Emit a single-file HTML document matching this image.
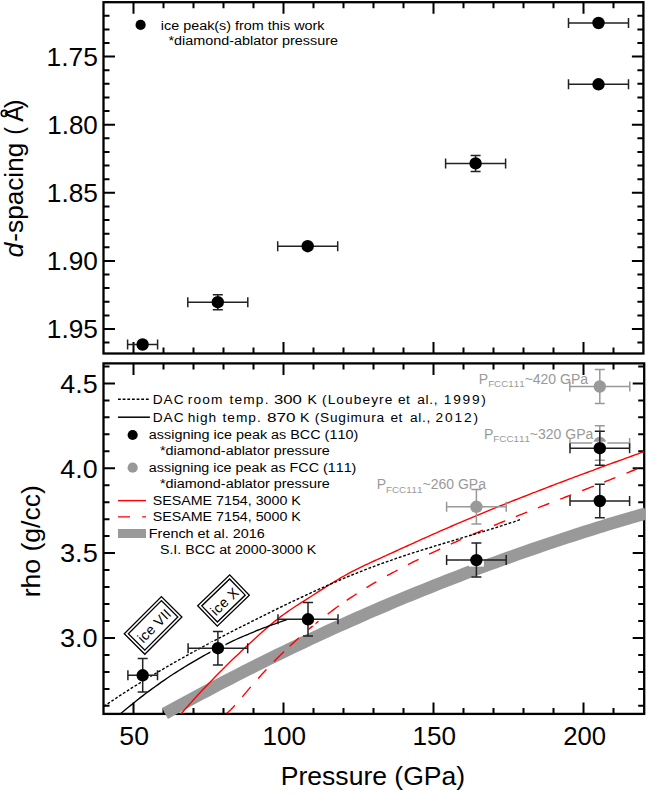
<!DOCTYPE html><html><head><meta charset="utf-8"><style>html,body{margin:0;padding:0;background:#fff;}svg{display:block;}text{font-family:"Liberation Sans", sans-serif;font-kerning:none;}</style></head><body>
<svg width="646" height="794" viewBox="0 0 646 794">
<rect width="646" height="794" fill="#fff"/>
<defs><clipPath id="c2"><rect x="103.5" y="363.4" width="540.7" height="350.5"/></clipPath></defs>
<rect x="103.5" y="2.2" width="539.9" height="351.3" fill="none" stroke="#000" stroke-width="2.3"/>
<rect x="103.5" y="363.4" width="540.7" height="350.5" fill="none" stroke="#000" stroke-width="2.3"/>
<path d="M133.5,2.2v11.5M133.5,353.5v-11.5M133.5,363.4v11.5M133.5,713.9v-11.5M163.5,2.2v6M163.5,353.5v-6M163.5,363.4v6M163.5,713.9v-6M193.5,2.2v6M193.5,353.5v-6M193.5,363.4v6M193.5,713.9v-6M223.5,2.2v6M223.5,353.5v-6M223.5,363.4v6M223.5,713.9v-6M253.5,2.2v6M253.5,353.5v-6M253.5,363.4v6M253.5,713.9v-6M283.5,2.2v11.5M283.5,353.5v-11.5M283.5,363.4v11.5M283.5,713.9v-11.5M313.5,2.2v6M313.5,353.5v-6M313.5,363.4v6M313.5,713.9v-6M343.5,2.2v6M343.5,353.5v-6M343.5,363.4v6M343.5,713.9v-6M373.5,2.2v6M373.5,353.5v-6M373.5,363.4v6M373.5,713.9v-6M403.5,2.2v6M403.5,353.5v-6M403.5,363.4v6M403.5,713.9v-6M433.5,2.2v11.5M433.5,353.5v-11.5M433.5,363.4v11.5M433.5,713.9v-11.5M463.5,2.2v6M463.5,353.5v-6M463.5,363.4v6M463.5,713.9v-6M493.5,2.2v6M493.5,353.5v-6M493.5,363.4v6M493.5,713.9v-6M523.5,2.2v6M523.5,353.5v-6M523.5,363.4v6M523.5,713.9v-6M553.5,2.2v6M553.5,353.5v-6M553.5,363.4v6M553.5,713.9v-6M583.5,2.2v11.5M583.5,353.5v-11.5M583.5,363.4v11.5M583.5,713.9v-11.5M613.5,2.2v6M613.5,353.5v-6M613.5,363.4v6M613.5,713.9v-6M103.5,15.7h6M643.4,15.7h-6M103.5,29.4h6M643.4,29.4h-6M103.5,43.0h6M643.4,43.0h-6M103.5,56.6h11.5M643.4,56.6h-11.5M103.5,70.2h6M643.4,70.2h-6M103.5,83.8h6M643.4,83.8h-6M103.5,97.5h6M643.4,97.5h-6M103.5,111.1h6M643.4,111.1h-6M103.5,124.7h11.5M643.4,124.7h-11.5M103.5,138.3h6M643.4,138.3h-6M103.5,151.9h6M643.4,151.9h-6M103.5,165.6h6M643.4,165.6h-6M103.5,179.2h6M643.4,179.2h-6M103.5,192.8h11.5M643.4,192.8h-11.5M103.5,206.4h6M643.4,206.4h-6M103.5,220.0h6M643.4,220.0h-6M103.5,233.7h6M643.4,233.7h-6M103.5,247.3h6M643.4,247.3h-6M103.5,260.9h11.5M643.4,260.9h-11.5M103.5,274.5h6M643.4,274.5h-6M103.5,288.1h6M643.4,288.1h-6M103.5,301.8h6M643.4,301.8h-6M103.5,315.4h6M643.4,315.4h-6M103.5,329.0h11.5M643.4,329.0h-11.5M103.5,342.6h6M643.4,342.6h-6M103.5,705.8h6M644.2,705.8h-6M103.5,688.9h6M644.2,688.9h-6M103.5,671.9h6M644.2,671.9h-6M103.5,654.9h6M644.2,654.9h-6M103.5,637.9h11.5M644.2,637.9h-11.5M103.5,621.0h6M644.2,621.0h-6M103.5,604.0h6M644.2,604.0h-6M103.5,587.0h6M644.2,587.0h-6M103.5,570.1h6M644.2,570.1h-6M103.5,553.1h11.5M644.2,553.1h-11.5M103.5,536.1h6M644.2,536.1h-6M103.5,519.2h6M644.2,519.2h-6M103.5,502.2h6M644.2,502.2h-6M103.5,485.2h6M644.2,485.2h-6M103.5,468.2h11.5M644.2,468.2h-11.5M103.5,451.3h6M644.2,451.3h-6M103.5,434.3h6M644.2,434.3h-6M103.5,417.3h6M644.2,417.3h-6M103.5,400.4h6M644.2,400.4h-6M103.5,383.4h11.5M644.2,383.4h-11.5M103.5,366.4h6M644.2,366.4h-6" stroke="#000" stroke-width="2" fill="none"/>
<defs><clipPath id="cb"><rect x="100" y="363.4" width="545.6" height="400"/></clipPath></defs>
<polyline clip-path="url(#cb)" points="165.0,713.5 171.0,710.2 177.0,706.9 183.0,703.6 189.0,700.3 195.0,697.1 201.0,693.9 207.0,690.7 213.0,687.5 219.0,684.4 225.0,681.3 231.0,678.2 237.0,675.1 243.0,672.0 249.0,669.0 255.0,666.0 261.0,663.0 267.0,660.0 273.0,657.0 279.0,654.1 285.0,651.2 291.0,648.3 297.0,645.5 303.0,642.6 309.0,639.8 315.0,637.0 321.0,634.2 327.0,631.4 333.0,628.7 339.0,626.0 345.0,623.3 351.0,620.6 357.0,618.0 363.0,615.3 369.0,612.7 375.0,610.1 381.0,607.5 387.0,605.0 393.0,602.4 399.0,599.9 405.0,597.4 411.0,595.0 417.0,592.5 423.0,590.1 429.0,587.7 435.0,585.3 441.0,582.9 447.0,580.5 453.0,578.2 459.0,575.9 465.0,573.6 471.0,571.3 477.0,569.1 483.0,566.8 489.0,564.6 495.0,562.4 501.0,560.2 507.0,558.1 513.0,555.9 519.0,553.8 525.0,551.7 531.0,549.6 537.0,547.6 543.0,545.5 549.0,543.5 555.0,541.5 561.0,539.5 567.0,537.5 573.0,535.6 579.0,533.6 585.0,531.7 591.0,529.8 597.0,527.9 603.0,526.1 609.0,524.2 615.0,522.4 621.0,520.6 627.0,518.8 633.0,517.1 639.0,515.3 645.0,513.6 646.0,513.3" fill="none" stroke="#999" stroke-width="12.3" stroke-linecap="butt"/>
<g clip-path="url(#c2)">
<polyline points="176.0,719.7 179.0,716.2 182.0,712.7 185.0,709.3 188.0,706.0 191.0,702.6 194.0,699.3 197.0,696.1 200.0,692.8 203.0,689.6 206.0,686.4 209.0,683.3 212.0,680.2 215.0,677.1 218.0,674.0 221.0,671.0 224.0,668.0 227.0,665.0 230.0,662.1 233.0,659.1 236.0,656.2 239.0,653.4 242.0,650.5 245.0,647.7 248.0,644.9 251.0,642.2 254.0,639.4 257.0,636.7 260.0,634.0 263.0,631.3 266.0,628.7 269.0,626.1 272.0,623.6 275.0,621.1 278.0,618.7 281.0,616.4 284.0,614.2 287.0,612.1 290.0,610.0 293.0,608.0 296.0,606.0 299.0,604.1 302.0,602.2 305.0,600.3 308.0,598.4 311.0,596.5 314.0,594.5 317.0,592.6 320.0,590.7 323.0,588.8 326.0,586.9 329.0,585.0 332.0,583.2 335.0,581.3 338.0,579.5 341.0,577.7 344.0,576.0 347.0,574.3 350.0,572.7 353.0,571.1 356.0,569.6 359.0,568.1 362.0,566.6 365.0,565.2 368.0,563.8 371.0,562.4 374.0,561.0 377.0,559.7 380.0,558.3 383.0,556.9 386.0,555.6 389.0,554.2 392.0,552.8 395.0,551.5 398.0,550.1 401.0,548.7 404.0,547.4 407.0,546.0 410.0,544.7 413.0,543.3 416.0,541.9 419.0,540.6 422.0,539.2 425.0,537.9 428.0,536.6 431.0,535.2 434.0,533.9 437.0,532.6 440.0,531.2 443.0,529.9 446.0,528.6 449.0,527.3 452.0,526.0 455.0,524.7 458.0,523.4 461.0,522.2 464.0,520.9 467.0,519.6 470.0,518.4 473.0,517.1 476.0,515.8 479.0,514.6 482.0,513.4 485.0,512.1 488.0,510.9 491.0,509.7 494.0,508.4 497.0,507.2 500.0,506.0 503.0,504.8 506.0,503.6 509.0,502.4 512.0,501.2 515.0,500.0 518.0,498.8 521.0,497.6 524.0,496.5 527.0,495.3 530.0,494.1 533.0,492.9 536.0,491.8 539.0,490.6 542.0,489.5 545.0,488.3 548.0,487.2 551.0,486.0 554.0,484.9 557.0,483.7 560.0,482.6 563.0,481.5 566.0,480.3 569.0,479.2 572.0,478.1 575.0,476.9 578.0,475.8 581.0,474.7 584.0,473.6 587.0,472.5 590.0,471.4 593.0,470.3 596.0,469.1 599.0,468.0 602.0,466.9 605.0,465.8 608.0,464.7 611.0,463.6 614.0,462.5 617.0,461.5 620.0,460.4 623.0,459.3 626.0,458.2 629.0,457.1 632.0,456.0 635.0,454.9 638.0,453.8 641.0,452.7 644.0,451.7 646.0,450.9" fill="none" stroke="#f00" stroke-width="1.4"/>
<path d="M226.5,713.6 L228.6,711.7 L230.7,709.7 L232.8,707.6 L234.9,705.3M242.3,696.9 L244.4,694.4 L246.5,691.9 L248.6,689.4 L250.7,686.9M258.1,678.5 L260.2,676.2 L262.2,673.9 L264.3,671.7 L266.4,669.5M273.9,661.7 L276.4,659.1 L279.0,656.6 L281.6,654.1 L284.1,651.6M289.7,646.3 L292.0,644.1 L294.4,642.0 L296.7,639.8 L299.0,637.7M308.5,629.5 L311.0,627.4 L313.5,625.3 L316.0,623.2 L318.5,621.2M327.7,614.1 L330.5,612.0 L333.3,609.9 L336.1,607.8 L338.9,605.8M346.7,600.4 L349.2,598.7 L351.6,597.1 L354.1,595.5 L356.6,593.9M366.5,587.7 L369.0,586.2 L371.4,584.7 L373.9,583.2 L376.4,581.8M387.0,575.7 L389.6,574.3 L392.2,572.9 L394.9,571.5 L397.5,570.1M408.0,564.6 L410.6,563.3 L413.3,561.9 L416.0,560.6 L418.6,559.3M429.1,554.2 L431.9,552.9 L434.6,551.6 L437.4,550.3 L440.2,549.0M450.8,544.1 L453.4,542.9 L456.1,541.8 L458.7,540.6 L461.3,539.4M472.4,534.6 L475.0,533.4 L477.7,532.3 L480.4,531.2 L483.0,530.1M493.9,525.5 L496.7,524.3 L499.5,523.2 L502.4,522.0 L505.2,520.9M515.9,516.6 L518.7,515.4 L521.5,514.3 L524.4,513.2 L527.2,512.1M538.0,507.8 L540.8,506.7 L543.6,505.6 L546.5,504.5 L549.3,503.4M560.2,499.1 L563.0,498.1 L565.7,497.0 L568.5,495.9 L571.2,494.9M582.2,490.6 L585.1,489.5 L588.0,488.3 L591.0,487.2 L593.9,486.1M604.3,482.0 L607.1,480.9 L609.8,479.8 L612.6,478.7 L615.4,477.6M626.5,473.1 L629.1,472.1 L631.7,471.0 L634.3,470.0 L636.9,468.9" fill="none" stroke="#f00" stroke-width="1.4"/>
<polyline points="100.0,709.0 103.0,707.0 106.0,704.9 109.0,702.9 112.0,700.9 115.0,698.9 118.0,696.9 121.0,694.9 124.0,693.0 127.0,691.1 130.0,689.1 133.0,687.2 136.0,685.4 139.0,683.5 142.0,681.6 145.0,679.8 148.0,678.0 151.0,676.2 154.0,674.4 157.0,672.6 160.0,670.8 163.0,669.1 166.0,667.3 169.0,665.6 172.0,663.8 175.0,662.1 178.0,660.4 181.0,658.7 184.0,657.1 187.0,655.4 190.0,653.7 193.0,652.1 196.0,650.5 199.0,648.8 202.0,647.2 205.0,645.6 208.0,644.0 211.0,642.4 214.0,640.8 217.0,639.3 220.0,637.7 223.0,636.1 226.0,634.6 229.0,633.0 232.0,631.5 235.0,629.9 238.0,628.4 241.0,626.9 244.0,625.4 247.0,623.9 250.0,622.4 253.0,620.8 256.0,619.4 259.0,617.9 262.0,616.4 265.0,614.9 268.0,613.4 271.0,611.9 274.0,610.4 277.0,609.0 280.0,607.5 283.0,606.1 286.0,604.6 289.0,603.2 292.0,601.7 295.0,600.3 298.0,598.9 301.0,597.5 304.0,596.1 307.0,594.7 310.0,593.3 313.0,591.9 316.0,590.5 319.0,589.2 322.0,587.8 325.0,586.5 328.0,585.2 331.0,583.9 334.0,582.6 337.0,581.3 340.0,580.0 343.0,578.7 346.0,577.5 349.0,576.2 352.0,575.0 355.0,573.8 358.0,572.6 361.0,571.4 364.0,570.2 367.0,569.0 370.0,567.9 373.0,566.8 376.0,565.6 379.0,564.5 382.0,563.4 385.0,562.4 388.0,561.3 391.0,560.3 394.0,559.2 397.0,558.2 400.0,557.2 403.0,556.2 406.0,555.2 409.0,554.2 412.0,553.2 415.0,552.3 418.0,551.3 421.0,550.4 424.0,549.4 427.0,548.5 430.0,547.6 433.0,546.7 436.0,545.7 439.0,544.8 442.0,543.9 445.0,543.0 448.0,542.1 451.0,541.2 454.0,540.3 457.0,539.4 460.0,538.5 463.0,537.6 466.0,536.7 469.0,535.8 472.0,534.9 475.0,534.0 478.0,533.1 481.0,532.2 484.0,531.3 487.0,530.4 490.0,529.4 493.0,528.5 496.0,527.6 499.0,526.6 502.0,525.7 505.0,524.7 508.0,523.7 511.0,522.7 514.0,521.8 517.0,520.7 520.0,519.7 521.0,519.4" fill="none" stroke="#000" stroke-width="1.4" stroke-dasharray="2.8,1.8"/>
<polyline points="116.0,717.7 119.0,715.1 122.0,712.6 125.0,710.0 128.0,707.5 131.0,705.1 134.0,702.7 137.0,700.3 140.0,697.9 143.0,695.6 146.0,693.3 149.0,691.1 152.0,688.9 155.0,686.7 158.0,684.6 161.0,682.4 164.0,680.4 167.0,678.3 170.0,676.3 173.0,674.3 176.0,672.4 179.0,670.5 182.0,668.6 185.0,666.7 188.0,664.9 191.0,663.1 194.0,661.3 197.0,659.6 200.0,657.9 203.0,656.2 206.0,654.5 209.0,652.9 212.0,651.3 215.0,649.7 218.0,648.2 221.0,646.7 224.0,645.2 227.0,643.8 230.0,642.3 233.0,640.9 236.0,639.5 239.0,638.2 242.0,636.8 245.0,635.5 248.0,634.3 251.0,633.0 254.0,631.8 257.0,630.5 260.0,629.4 263.0,628.2 266.0,627.1 269.0,625.9 272.0,624.8 275.0,623.8 278.0,622.7 281.0,621.7 284.0,620.7 287.0,619.7" fill="none" stroke="#000" stroke-width="1.35"/>
</g>
<text x="46.49" y="65.90" font-size="26" textLength="51.42" lengthAdjust="spacingAndGlyphs">1.75</text>
<text x="47.22" y="134.00" font-size="26" textLength="50.60" lengthAdjust="spacingAndGlyphs">1.80</text>
<text x="46.80" y="202.10" font-size="26" textLength="51.10" lengthAdjust="spacingAndGlyphs">1.85</text>
<text x="46.80" y="270.20" font-size="26" textLength="51.02" lengthAdjust="spacingAndGlyphs">1.90</text>
<text x="46.80" y="338.30" font-size="26" textLength="51.10" lengthAdjust="spacingAndGlyphs">1.95</text>
<text x="60.38" y="392.70" font-size="26" textLength="37.34" lengthAdjust="spacingAndGlyphs">4.5</text>
<text x="60.38" y="477.55" font-size="26" textLength="37.26" lengthAdjust="spacingAndGlyphs">4.0</text>
<text x="59.97" y="562.40" font-size="26" textLength="37.78" lengthAdjust="spacingAndGlyphs">3.5</text>
<text x="59.97" y="647.25" font-size="26" textLength="37.69" lengthAdjust="spacingAndGlyphs">3.0</text>
<text x="119.33" y="745.30" font-size="26" textLength="29.61" lengthAdjust="spacingAndGlyphs">50</text>
<text x="262.61" y="745.30" font-size="26" textLength="43.50" lengthAdjust="spacingAndGlyphs">100</text>
<text x="412.61" y="745.30" font-size="26" textLength="43.50" lengthAdjust="spacingAndGlyphs">150</text>
<text x="563.31" y="745.30" font-size="26" textLength="42.79" lengthAdjust="spacingAndGlyphs">200</text>
<text x="280.82" y="785.00" font-size="25" textLength="184.32" lengthAdjust="spacingAndGlyphs">Pressure (GPa)</text>
<g transform="translate(23,0) rotate(-90)"><text x="-257.50" y="0" font-size="25" textLength="14.79" lengthAdjust="spacingAndGlyphs" font-style="italic">d</text><text x="-241.66" y="0" font-size="25" textLength="98.95" lengthAdjust="spacingAndGlyphs">-spacing</text><text x="-134.73" y="0" font-size="25" textLength="7.66" lengthAdjust="spacingAndGlyphs">(</text><text x="-121.75" y="0" font-size="25" textLength="16.19" lengthAdjust="spacingAndGlyphs">A</text><text x="-108.26" y="0" font-size="25" textLength="8.92" lengthAdjust="spacingAndGlyphs">)</text></g>
<circle cx="4.3" cy="113.4" r="3.0" fill="none" stroke="#000" stroke-width="1.6"/>
<g transform="translate(39.6,0) rotate(-90)"><text x="-597.36" y="0" font-size="25" textLength="112.21" lengthAdjust="spacingAndGlyphs">rho (g/cc)</text></g>
<path d="M127.6,344.5H157.6M127.6,339.5v10M157.6,339.5v10" stroke="#222" stroke-width="1.5" fill="none"/>
<circle cx="142.6" cy="344.5" r="6.2" fill="#000"/>
<path d="M187.8,302.2H247.8M187.8,297.2v10M247.8,297.2v10M217.8,294.7V309.7M212.8,294.7h10M212.8,309.7h10" stroke="#222" stroke-width="1.5" fill="none"/>
<circle cx="217.8" cy="302.2" r="6.2" fill="#000"/>
<path d="M277.7,246.2H337.7M277.7,241.2v10M337.7,241.2v10" stroke="#222" stroke-width="1.5" fill="none"/>
<circle cx="307.7" cy="246.2" r="6.2" fill="#000"/>
<path d="M445.6,163.4H505.6M445.6,158.4v10M505.6,158.4v10M475.6,155.4V171.4M470.6,155.4h10M470.6,171.4h10" stroke="#222" stroke-width="1.5" fill="none"/>
<circle cx="475.6" cy="163.4" r="6.2" fill="#000"/>
<path d="M568.5,84.3H628.5M568.5,79.3v10M628.5,79.3v10" stroke="#222" stroke-width="1.5" fill="none"/>
<circle cx="598.5" cy="84.3" r="6.2" fill="#000"/>
<path d="M568.5,23.0H628.5M568.5,18.0v10M628.5,18.0v10" stroke="#222" stroke-width="1.5" fill="none"/>
<circle cx="598.5" cy="23" r="6.2" fill="#000"/>
<path d="M446.6,506.8H506.2M446.6,501.8v10M506.2,501.8v10M476.4,489.6V524.0M471.4,489.6h10M471.4,524.0h10" stroke="#999" stroke-width="1.5" fill="none"/>
<circle cx="476.4" cy="506.8" r="6.2" fill="#999"/>
<path d="M570.0,443.0H629.6M570.0,438.0v10M629.6,438.0v10M599.8,425.8V460.2M594.8,425.8h10M594.8,460.2h10" stroke="#999" stroke-width="1.5" fill="none"/>
<circle cx="599.8" cy="443" r="6.2" fill="#999"/>
<path d="M569.8,386.5H629.8M569.8,381.5v10M629.8,381.5v10M599.8,369.4V403.6M594.8,369.4h10M594.8,403.6h10" stroke="#999" stroke-width="1.5" fill="none"/>
<circle cx="599.8" cy="386.5" r="6.2" fill="#999"/>
<rect x="135.2" y="668.8" width="15" height="13" fill="#fff"/>
<rect x="210.4" y="641.7" width="15" height="13" fill="#fff"/>
<rect x="300.5" y="612.8" width="15" height="13" fill="#fff"/>
<rect x="468.9" y="553.6" width="15" height="13" fill="#fff"/>
<rect x="592.3" y="494.5" width="15" height="13" fill="#fff"/>
<rect x="592.3" y="441.7" width="15" height="13" fill="#fff"/>
<path d="M127.9,675.3H157.5M127.9,670.3v10M157.5,670.3v10M142.7,658.5V692.1M137.7,658.5h10M137.7,692.1h10" stroke="#222" stroke-width="1.5" fill="none"/>
<circle cx="142.7" cy="675.3" r="6.2" fill="#000"/>
<path d="M188.1,648.2H247.7M188.1,643.2v10M247.7,643.2v10M217.9,631.4V665.0M212.9,631.4h10M212.9,665.0h10" stroke="#222" stroke-width="1.5" fill="none"/>
<circle cx="217.9" cy="648.2" r="6.2" fill="#000"/>
<path d="M278.0,619.3H338.0M278.0,614.3v10M338.0,614.3v10M308.0,602.5V636.1M303.0,602.5h10M303.0,636.1h10" stroke="#222" stroke-width="1.5" fill="none"/>
<circle cx="308" cy="619.3" r="6.2" fill="#000"/>
<path d="M446.6,560.1H506.2M446.6,555.1v10M506.2,555.1v10M476.4,543.1V577.1M471.4,543.1h10M471.4,577.1h10" stroke="#222" stroke-width="1.5" fill="none"/>
<circle cx="476.4" cy="560.1" r="6.2" fill="#000"/>
<path d="M570.0,501.0H629.6M570.0,496.0v10M629.6,496.0v10M599.8,484.2V517.8M594.8,484.2h10M594.8,517.8h10" stroke="#222" stroke-width="1.5" fill="none"/>
<circle cx="599.8" cy="501" r="6.2" fill="#000"/>
<path d="M570.0,448.2H629.6M570.0,443.2v10M629.6,443.2v10M599.8,431.2V465.2M594.8,431.2h10M594.8,465.2h10" stroke="#222" stroke-width="1.5" fill="none"/>
<circle cx="599.8" cy="448.2" r="6.2" fill="#000"/>
<g transform="translate(153.1,625.4) rotate(-45)"><rect x="-26.25" y="-14.5" width="52.5" height="29" fill="#fff" stroke="#000" stroke-width="1.3"/><rect x="-23.35" y="-11.6" width="46.7" height="23.2" fill="none" stroke="#000" stroke-width="1.3"/><text x="-19.94" y="5.90" font-size="14" textLength="40.73" lengthAdjust="spacing">ice VII</text></g>
<g transform="translate(223.5,600.5) rotate(-44)"><rect x="-22.25" y="-14.1" width="44.5" height="28.2" fill="#fff" stroke="#000" stroke-width="1.3"/><rect x="-19.35" y="-11.2" width="38.7" height="22.4" fill="none" stroke="#000" stroke-width="1.3"/><text x="-16.44" y="6.30" font-size="14" textLength="32.73" lengthAdjust="spacing">ice X</text></g>
<circle cx="140.6" cy="24.9" r="5.1" fill="#000"/>
<text x="160.84" y="29.70" font-size="13.7" textLength="163.64" lengthAdjust="spacingAndGlyphs">ice peak(s) from this work</text>
<text x="168.47" y="45.30" font-size="13.7" textLength="169.57" lengthAdjust="spacingAndGlyphs">*diamond-ablator pressure</text>
<path d="M118,399.2H149.5" stroke="#000" stroke-width="1.5" stroke-dasharray="2.8,1.85"/>
<text x="152.68" y="403.90" font-size="13.7" textLength="30.95" lengthAdjust="spacing">DAC</text>
<text x="187.69" y="403.90" font-size="13.7" textLength="34.61" lengthAdjust="spacing">room</text>
<text x="229.49" y="403.90" font-size="13.7" textLength="38.96" lengthAdjust="spacing">temp.</text>
<text x="273.96" y="403.90" font-size="13.7" textLength="27.89" lengthAdjust="spacingAndGlyphs">300</text>
<text x="307.44" y="403.90" font-size="13.7" textLength="9.42" lengthAdjust="spacingAndGlyphs">K</text>
<text x="322.05" y="403.90" font-size="13.7" textLength="70.26" lengthAdjust="spacing">(Loubeyre</text>
<text x="397.92" y="403.90" font-size="13.7" textLength="11.78" lengthAdjust="spacing">et</text>
<text x="417.22" y="403.90" font-size="13.7" textLength="20.31" lengthAdjust="spacing">al.,</text>
<text x="443.76" y="403.90" font-size="13.7" textLength="42.09" lengthAdjust="spacing">1999)</text>
<path d="M118,417.2H149.9" stroke="#000" stroke-width="1.5"/>
<text x="152.68" y="422.00" font-size="13.7" textLength="30.95" lengthAdjust="spacing">DAC</text>
<text x="187.65" y="422.00" font-size="13.7" textLength="28.44" lengthAdjust="spacing">high</text>
<text x="222.49" y="422.00" font-size="13.7" textLength="38.26" lengthAdjust="spacing">temp.</text>
<text x="267.05" y="422.00" font-size="13.7" textLength="28.62" lengthAdjust="spacingAndGlyphs">870</text>
<text x="300.04" y="422.00" font-size="13.7" textLength="9.42" lengthAdjust="spacingAndGlyphs">K</text>
<text x="314.65" y="422.00" font-size="13.7" textLength="69.55" lengthAdjust="spacing">(Sugimura</text>
<text x="390.42" y="422.00" font-size="13.7" textLength="11.88" lengthAdjust="spacing">et</text>
<text x="410.02" y="422.00" font-size="13.7" textLength="20.21" lengthAdjust="spacing">al.,</text>
<text x="435.51" y="422.00" font-size="13.7" textLength="42.44" lengthAdjust="spacing">2012)</text>
<circle cx="132.65" cy="435" r="5.1" fill="#000"/>
<text x="148.89" y="438.90" font-size="13.7" textLength="209.30" lengthAdjust="spacingAndGlyphs">assigning ice peak as BCC (110)</text>
<text x="159.97" y="455.10" font-size="13.7" textLength="169.77" lengthAdjust="spacingAndGlyphs">*diamond-ablator pressure</text>
<circle cx="132.65" cy="467.7" r="5.1" fill="#999"/>
<text x="148.89" y="471.60" font-size="13.7" textLength="207.49" lengthAdjust="spacingAndGlyphs">assigning ice peak as FCC (111)</text>
<text x="159.97" y="488.20" font-size="13.7" textLength="169.77" lengthAdjust="spacingAndGlyphs">*diamond-ablator pressure</text>
<path d="M118,500.6H146" stroke="#f00" stroke-width="1.4"/>
<text x="152.65" y="505.30" font-size="13.7" textLength="148.21" lengthAdjust="spacingAndGlyphs">SESAME 7154, 3000 K</text>
<path d="M118,516.9H130M142.2,516.9H146" stroke="#f00" stroke-width="1.4"/>
<text x="152.65" y="521.20" font-size="13.7" textLength="148.21" lengthAdjust="spacingAndGlyphs">SESAME 7154, 5000 K</text>
<rect x="118" y="529" width="28" height="9" fill="#999"/>
<text x="148.82" y="537.60" font-size="13.7" textLength="115.91" lengthAdjust="spacingAndGlyphs">French et al. 2016</text>
<text x="159.95" y="554.40" font-size="13.7" textLength="156.40" lengthAdjust="spacingAndGlyphs">S.I. BCC at 2000-3000 K</text>
<text x="478.8" y="383.5" font-size="14" fill="#999">P<tspan font-size="9.8" dy="3.6">FCC111</tspan><tspan dy="-3.6">~420 GPa</tspan></text>
<text x="484" y="438.8" font-size="14" fill="#999">P<tspan font-size="9.8" dy="3.6">FCC111</tspan><tspan dy="-3.6">~320 GPa</tspan></text>
<text x="376.7" y="489.3" font-size="14" fill="#999">P<tspan font-size="9.8" dy="3.6">FCC111</tspan><tspan dy="-3.6">~260 GPa</tspan></text>
</svg></body></html>
